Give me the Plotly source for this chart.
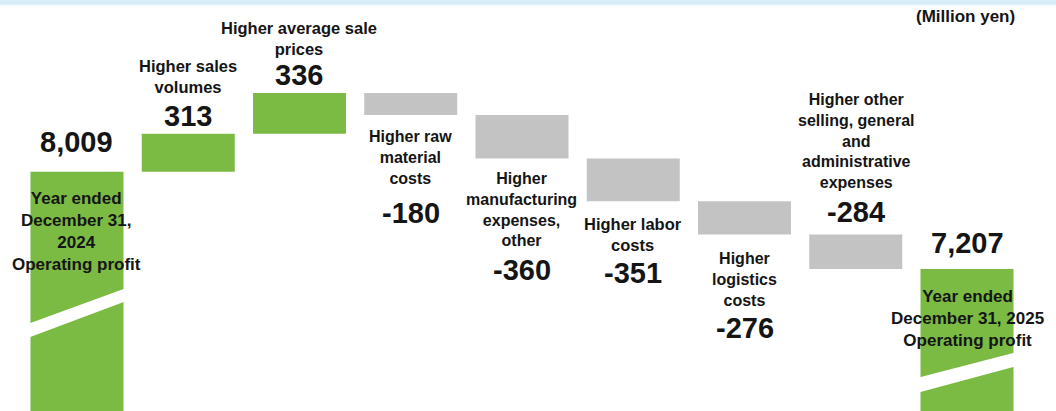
import plotly.graph_objects as go

# ---- data ----
categories = ["FY2024 Operating profit", "Higher sales volumes", "Higher average sale prices",
              "Higher raw material costs", "Higher manufacturing expenses, other",
              "Higher labor costs", "Higher logistics costs",
              "Higher other selling, general and administrative expenses",
              "FY2025 Operating profit"]
measures = ["absolute", "relative", "relative", "relative", "relative",
            "relative", "relative", "relative", "total"]
values = [8009, 313, 336, -180, -360, -351, -276, -284, 7207]
value_labels = ["8,009", "313", "336", "-180", "-360", "-351", "-276", "-284", "7,207"]
name_labels = [
    "Year ended<br>December 31,<br>2024<br>Operating profit",
    "Higher sales<br>volumes",
    "Higher average sale<br>prices",
    "Higher raw<br>material<br>costs",
    "Higher<br>manufacturing<br>expenses,<br>other",
    "Higher labor<br>costs",
    "Higher<br>logistics<br>costs",
    "Higher other<br>selling, general<br>and<br>administrative<br>expenses",
    "Year ended<br>December 31, 2025<br>Operating profit",
]
unit_label = "(Million yen)"

GREEN = "#7bba43"
GRAY = "#c3c3c3"
TEXT = "#151515"
FONT = "Liberation Sans, Arial, sans-serif"

xs = list(range(len(categories)))
wf_y = values[:-1] + [0]

fig = go.Figure(go.Waterfall(
    x=xs, y=wf_y, measure=measures, width=0.836,
    increasing=dict(marker=dict(color=GREEN, line=dict(width=0))),
    decreasing=dict(marker=dict(color=GRAY, line=dict(width=0))),
    totals=dict(marker=dict(color=GREEN, line=dict(width=0))),
    connector=dict(visible=False), hoverinfo="skip", textinfo="none",
))

# cumulative ends for annotation anchoring
starts, ends = [], []
run = 0
for m, v in zip(measures, values):
    if m == "absolute":
        s, e = 0, v
        run = v
    elif m == "total":
        s, e = 0, run
    else:
        s, e = run, run + v
        run = e
    starts.append(s)
    ends.append(e)
tops = [max(s, e) for s, e in zip(starts, ends)]
bottoms = [min(s, e) for s, e in zip(starts, ends)]

# (anchor of bar, pixel offset of value center, of name center, name size)
layout_spec = [
    ("top", -30, 60, 17),
    ("top", -18, -57, 16.5),
    ("top", -18, -55, 16.5),
    ("bottom", 98, 43, 16),
    ("bottom", 111, 51, 16),
    ("bottom", 72, 33, 16.5),
    ("bottom", 93, 45, 16),
    ("top", -23, -94, 16),
    ("top", -26, 49, 17),
]

annotations = []
for i, (anc, vsh, nsh, nsize) in enumerate(layout_spec):
    yv = tops[i] if anc == "top" else bottoms[i]
    annotations.append(dict(x=xs[i], y=yv, xref="x", yref="y", yanchor="middle",
                            yshift=-vsh, showarrow=False,
                            text="<b>%s</b>" % value_labels[i],
                            font=dict(family=FONT, size=29, color=TEXT)))
    annotations.append(dict(x=xs[i], y=yv, xref="x", yref="y", yanchor="middle",
                            yshift=-nsh, showarrow=False, align="center",
                            text="<b>%s</b>" % name_labels[i],
                            font=dict(family=FONT, size=nsize, color=TEXT)))

annotations.append(dict(x=965 / 1056, y=1 - 17 / 411, xref="paper", yref="paper",
                        xanchor="center", yanchor="middle", showarrow=False,
                        text="<b>%s</b>" % unit_label,
                        font=dict(family=FONT, size=17, color=TEXT)))

# axis-break slashes (white parallelograms across the total bars)
def slash(xc, yl_lo, yl_hi, yr_lo, yr_hi, half=0.418, ext=0.05):
    slope_lo = (yr_lo - yl_lo) / (2 * half)
    slope_hi = (yr_hi - yl_hi) / (2 * half)
    x0, x1 = xc - half - ext, xc + half + ext
    a = yl_lo - slope_lo * ext
    b = yl_hi - slope_hi * ext
    c = yr_lo + slope_lo * ext
    d = yr_hi + slope_hi * ext
    return dict(type="path", xref="x", yref="y",
                path=f"M {x0},{a} L {x1},{c} L {x1},{d} L {x0},{b} Z",
                fillcolor="white", line=dict(width=0), layer="above")

shapes = [
    slash(xs[0], 6647, 6762, 6935, 7043),
    slash(xs[-1], 6193, 6317, 6399, 6515),
    dict(type="rect", xref="paper", yref="paper", x0=0, x1=1, y0=1 - 5 / 411, y1=1,
         fillcolor="#d8eef8", line=dict(width=0), layer="above"),
]

fig.update_layout(
    width=1056, height=411,
    margin=dict(l=0, r=0, t=0, b=0),
    paper_bgcolor="white", plot_bgcolor="white",
    showlegend=False,
    xaxis=dict(range=[-0.692, 8.80], visible=False),
    yaxis=dict(range=[6037, 9425], visible=False),
    annotations=annotations, shapes=shapes,
)

fig.write_html("out.html")
